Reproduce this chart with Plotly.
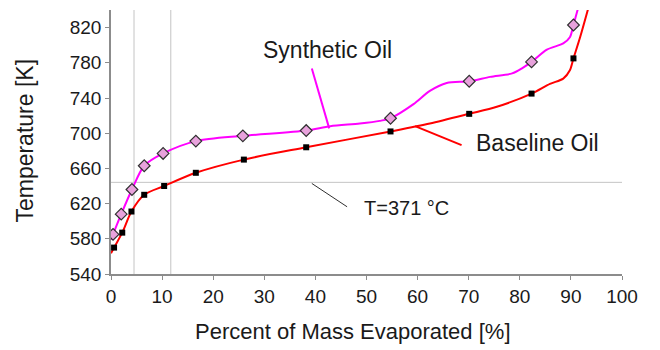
import plotly.graph_objects as go

# Measured distillation points: percent of mass evaporated vs temperature [K]
syn_pct = [0.4, 2.0, 4.1, 6.5, 10.2, 16.6, 25.8, 38.2, 54.7, 70.1, 82.3, 90.5]
syn_temp = [585, 608, 636, 663, 677, 691, 697, 703, 717, 759, 781, 823]

base_pct = [0.6, 2.2, 4.0, 6.5, 10.4, 16.6, 26.0, 38.2, 54.7, 70.1, 82.3, 90.5]
base_temp = [570, 587, 611, 630, 640, 655, 670, 684, 702, 722, 745, 785]

# Smoothed distillation curves (continuous traces through the measured points)
syn_curve_pct = [0.0, 0.4, 2.0, 4.1, 6.5, 10.2, 16.6, 25.8, 38.2, 42.9, 48.7, 52.6,
                 54.7, 59.2, 62.4, 65.7, 70.1, 74.2, 78.5, 80.5, 82.3, 85.3, 88.5,
                 89.8, 90.5, 91.4]
syn_curve_temp = [579, 585, 608, 636, 663, 677, 691, 697, 703, 708, 711, 714,
                  717, 733, 748, 757, 759, 764, 768, 774, 781, 795, 802,
                  809, 823, 842]

base_curve_pct = [0.0, 0.6, 2.2, 4.0, 6.5, 10.4, 16.6, 26.0, 38.2, 54.7, 62.4,
                  70.1, 75.5, 82.3, 85.9, 88.5, 89.8, 90.5, 91.8, 93.4]
base_curve_temp = [563.5, 570, 587, 611, 630, 640, 655, 670, 684, 702, 711,
                   722, 730, 745, 756, 762, 771.5, 785, 809, 842]

# Reference temperature T = 371 °C and where each oil reaches it
ref_temp_k = [644.15]
ref_cross_pct = [4.5, 11.7]

x_ticks = [0, 10, 20, 30, 40, 50, 60, 70, 80, 90, 100]
y_ticks = [540, 580, 620, 660, 700, 740, 780, 820]

FONT = "Liberation Sans, Arial, sans-serif"
TXT = "#1a1a1a"
GRID = "#c4c4c4"
AXIS = "#8c8c8c"

fig = go.Figure()

# reference guide lines
for xp in ref_cross_pct:
    fig.add_trace(go.Scatter(x=[xp, xp], y=[540, 840], mode="lines",
                             line=dict(color=GRID, width=1), hoverinfo="skip"))
for tk in ref_temp_k:
    fig.add_trace(go.Scatter(x=[0, 100], y=[tk, tk], mode="lines",
                             line=dict(color=GRID, width=1), hoverinfo="skip"))

# curves
fig.add_trace(go.Scatter(x=syn_curve_pct, y=syn_curve_temp, mode="lines",
                         line=dict(color="#ff00ff", width=2, shape="spline", smoothing=0.8),
                         name="Synthetic Oil"))
fig.add_trace(go.Scatter(x=base_curve_pct, y=base_curve_temp, mode="lines",
                         line=dict(color="#ff0000", width=2, shape="spline", smoothing=0.8),
                         name="Baseline Oil"))

# markers
fig.add_trace(go.Scatter(x=syn_pct, y=syn_temp, mode="markers",
                         marker=dict(symbol="diamond", size=9, color="#e8a2dc",
                                     line=dict(color="#303030", width=1.2)),
                         name="Synthetic Oil data"))
fig.add_trace(go.Scatter(x=base_pct, y=base_temp, mode="markers",
                         marker=dict(symbol="square", size=6, color="#000000",
                                     line=dict(width=0)),
                         name="Baseline Oil data"))

# callout leader lines
fig.add_shape(type="line", x0=39.3, y0=773.5, x1=42.7, y1=705.5,
              line=dict(color="#ff00ff", width=2))
fig.add_shape(type="line", x0=59.5, y0=708, x1=68.6, y1=686.4,
              line=dict(color="#ff0000", width=2))
fig.add_shape(type="line", x0=39.3, y0=642.9, x1=46.2, y1=616.4,
              line=dict(color="#303030", width=1))

fig.add_annotation(x=29.35, y=795, xref="x", yref="y", text="Synthetic Oil",
                   showarrow=False, xanchor="left", yanchor="middle",
                   font=dict(family=FONT, size=23, color=TXT))
fig.add_annotation(x=71.0, y=688.7, xref="x", yref="y", text="Baseline Oil",
                   showarrow=False, xanchor="left", yanchor="middle",
                   font=dict(family=FONT, size=23, color=TXT))
fig.add_annotation(x=49.1, y=614.7, xref="x", yref="y", text="T=371 °C",
                   showarrow=False, xanchor="left", yanchor="middle",
                   font=dict(family=FONT, size=20, color=TXT))

# axis titles
fig.add_annotation(x=0.4736, y=-0.216, xref="paper", yref="paper",
                   text="Percent of Mass Evaporated [%]", showarrow=False,
                   xanchor="center", yanchor="middle",
                   font=dict(family=FONT, size=22, color=TXT))
fig.add_annotation(x=-0.168, y=0.506, xref="paper", yref="paper",
                   text="Temperature [K]", showarrow=False, textangle=-90,
                   xanchor="center", yanchor="middle",
                   font=dict(family=FONT, size=23, color=TXT))

fig.update_layout(
    width=660, height=350,
    margin=dict(l=111, r=38, t=10, b=76),
    paper_bgcolor="white", plot_bgcolor="white",
    showlegend=False,
    font=dict(family=FONT, color=TXT),
    xaxis=dict(range=[0, 100], tickvals=x_ticks, showgrid=False, zeroline=False,
               showline=True, linecolor=AXIS, linewidth=1.5,
               ticks="outside", ticklen=4, tickcolor=AXIS,
               tickfont=dict(family=FONT, size=19, color=TXT)),
    yaxis=dict(range=[540, 840], tickvals=y_ticks, showgrid=False, zeroline=False,
               showline=True, linecolor=AXIS, linewidth=1.5,
               ticks="outside", ticklen=4, tickcolor=AXIS,
               tickfont=dict(family=FONT, size=19, color=TXT)),
)

fig.write_html("out.html")
